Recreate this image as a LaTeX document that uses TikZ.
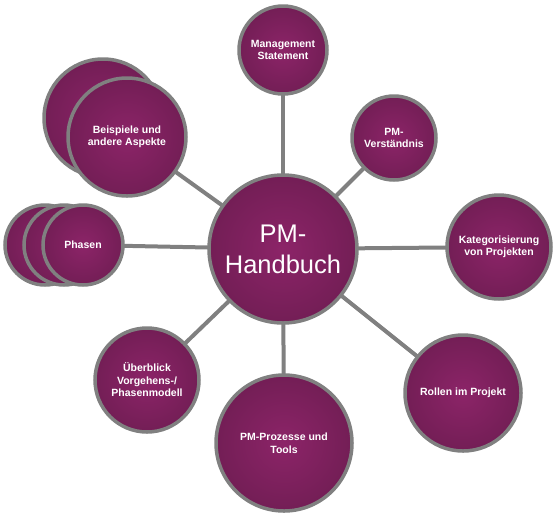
\documentclass[tikz,border=0pt]{standalone}
\usepackage{fontspec}
\setmainfont{Liberation Sans}
\usetikzlibrary{backgrounds}
\definecolor{bubin}{HTML}{8C2468}
\definecolor{bubout}{HTML}{5A1843}
\definecolor{rim}{HTML}{808080}
\pgfdeclareradialshading{bubble}{\pgfpoint{0bp}{0bp}}{color(0bp)=(bubin); color(50bp)=(bubout); color(72bp)=(bubout)}

\begin{document}
\begin{tikzpicture}[x=1pt,y=-1pt,
    bub/.style={circle,draw=rim,line width=3.5pt,shading=bubble,text=white,align=center,inner sep=0pt,
      font=\bfseries\fontsize{10.5}{12.5}\selectfont},
    link/.style={draw=rim,line width=4pt}]
  \useasboundingbox (0,0) rectangle (556,515);
  % stacked circles behind
  \node[bub,minimum size=118pt] (beiback) at (103,118) {};
  \node[bub,minimum size=80pt] (phaback2) at (45,245) {};
  \node[bub,minimum size=80pt] (phaback1) at (64,245) {};
  % centre
  \node[bub,minimum size=148pt,font=\fontsize{25.5}{31}\selectfont] (hb) at (283,249) {PM-\\Handbuch};
  % topics
  \node[bub,minimum size=88pt] (ms) at (283,50) {Management\\Statement};
  \node[bub,minimum size=84pt] (pmv) at (394,138) {PM-\\Verständnis};
  \node[bub,minimum size=104pt] (kat) at (499,247) {Kategorisierung\\von Projekten};
  \node[bub,minimum size=116pt] (rol) at (463,393) {Rollen im Projekt};
  \node[bub,minimum size=136pt] (pro) at (284,443) {PM-Prozesse und\\Tools};
  \node[bub,minimum size=104pt] (ueb) at (147,380) {Überblick\\Vorgehens-/\\Phasenmodell};
  \node[bub,minimum size=80pt] (pha) at (83,245) {Phasen};
  \node[bub,minimum size=118pt] (bei) at (127,137) {Beispiele und\\andere Aspekte};
  \begin{scope}[on background layer]
    \foreach \t in {ms,pmv,kat,rol,pro,ueb,pha,bei}
      \draw[link] (hb.center) -- (\t.center);
  \end{scope}
\end{tikzpicture}
\end{document}
